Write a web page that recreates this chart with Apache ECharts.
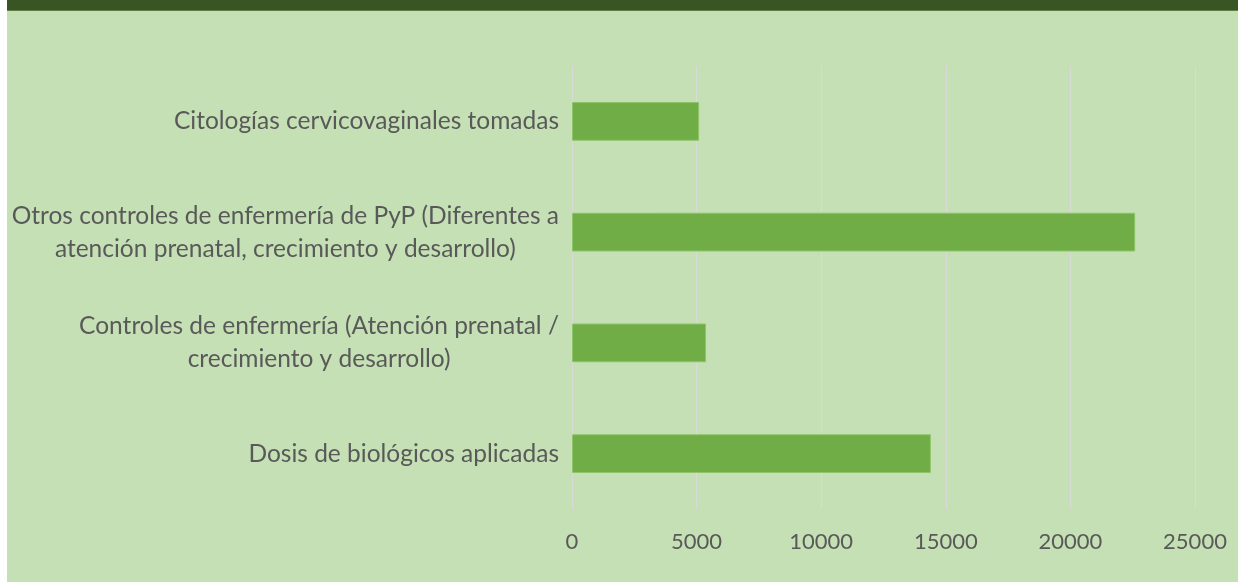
<!DOCTYPE html>
<html>
<head>
<meta charset="utf-8">
<script src="https://cdn.jsdelivr.net/npm/echarts@6/dist/echarts.min.js"></script>
<style>
    html, body { margin: 0; padding: 0; background: #ffffff; }
    #wrap { position: absolute; left: 7px; top: 0; width: 1231px; height: 582px; background: #c5e0b4; }
    #band { position: absolute; left: 0; top: 0; width: 100%; height: 10px; background: #375623; border-bottom: 1px solid #5f7f45; }
    #chart { position: absolute; left: 0; top: 0; width: 1231px; height: 582px; }
</style>
</head>
<body>
<div id="wrap">
    <div id="chart"></div>
    <div id="band"></div>
</div>
<script>
var categories = [
    'Citologías cervicovaginales tomadas',
    'Otros controles de enfermería de PyP (Diferentes a\natención prenatal, crecimiento y desarrollo)',
    'Controles de enfermería (Atención prenatal /\ncrecimiento y desarrollo)',
    'Dosis de biológicos aplicadas'
];
var values = [5100, 22600, 5380, 14400];
var xTicks = [0, 5000, 10000, 15000, 20000, 25000];

var chart = echarts.init(document.getElementById('chart'));

var option = {
    backgroundColor: 'transparent',
    animation: false,
    grid: {
        left: 565,
        right: 43,
        top: 66,
        bottom: 73
    },
    xAxis: {
        type: 'value',
        min: xTicks[0],
        max: xTicks[xTicks.length - 1],
        interval: 5000,
        axisLine: { show: false },
        axisTick: { show: false },
        axisLabel: {
            color: '#595959',
            fontFamily: 'Lato',
            fontSize: 22,
            margin: 22,
            formatter: function (v) { return String(v); }
        },
        splitLine: {
            lineStyle: { color: '#d9d9d9', width: 1 }
        }
    },
    yAxis: {
        type: 'category',
        data: categories,
        inverse: true,
        axisLine: { show: false },
        axisTick: { show: false },
        axisLabel: {
            color: '#595959',
            fontFamily: 'Lato',
            fontSize: 24.5,
            lineHeight: 33,
            align: 'right',
            margin: 13,
            // lines centred on each other, like the original
            formatter: function (v) {
                return v.split('\n').map(function (s) { return '{c|' + s + '}'; }).join('\n');
            },
            rich: {
                c: {
                    align: 'center',
                    color: '#595959',
                    fontFamily: 'Lato',
                    fontSize: 24.5,
                    lineHeight: 33
                }
            }
        }
    },
    series: [
        {
            type: 'bar',
            data: values,
            barWidth: '35%',
            itemStyle: {
                color: '#70ad47',
                borderColor: '#8fc46a',
                borderWidth: 1
            }
        }
    ]
};

chart.setOption(option);
</script>
</body>
</html>
